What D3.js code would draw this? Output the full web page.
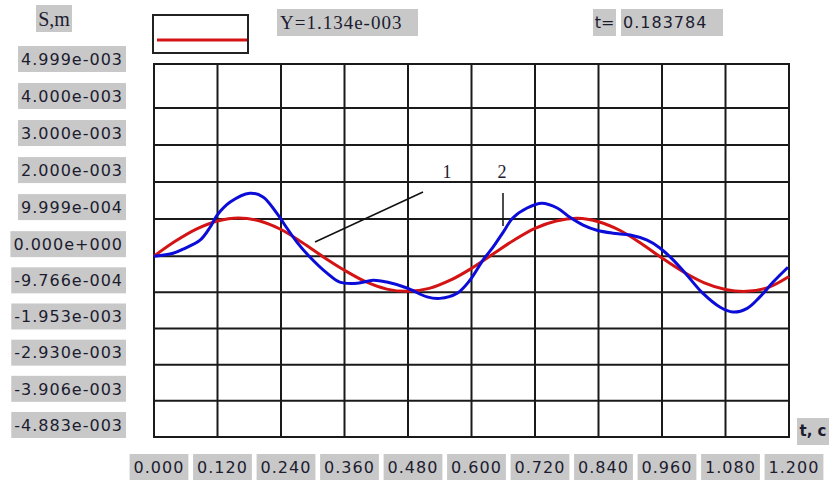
<!DOCTYPE html>
<html>
<head>
    <title>S(t) displacement chart</title>
    <style type="text/css">
        body { margin: 0; background: #ffffff; }
        .box { fill: #c8c8c8; }
        .lbl { font-family: "DejaVu Sans", sans-serif; font-size: 16px; letter-spacing: 1px; fill: #1c1c30; }
        .serif { font-family: "Liberation Serif", "Times New Roman", serif; fill: #1c1c30; }
        .grid { stroke: #1a1a1a; stroke-width: 2; fill: none; }
    </style>
</head>
<body>
    <div id="chart"></div>
    <script src="https://cdnjs.cloudflare.com/ajax/libs/d3/7.8.5/d3.min.js"></script>
    <script>
      // time axis ticks and their labels
      var xTicks = [0, 0.12, 0.24, 0.36, 0.48, 0.6, 0.72, 0.84, 0.96, 1.08, 1.2];
      var xTickLabels = ["0.000", "0.120", "0.240", "0.360", "0.480", "0.600", "0.720", "0.840", "0.960", "1.080", "1.200"];

      // displacement axis ticks and their labels (as printed)
      var yTicks = [4.999e-3, 4.0e-3, 3.0e-3, 2.0e-3, 9.999e-4, 0, -9.766e-4, -1.953e-3, -2.930e-3, -3.906e-3, -4.883e-3];
      var yTickLabels = ["4.999e-003", "4.000e-003", "3.000e-003", "2.000e-003", "9.999e-004", "0.000e+000",
                         "-9.766e-004", "-1.953e-003", "-2.930e-003", "-3.906e-003", "-4.883e-003"];

      // curve 1 (red), value in 1e-3 m
      var redT = [0, 0.04, 0.08, 0.12, 0.16, 0.20, 0.24, 0.28, 0.32, 0.36, 0.40, 0.44, 0.48, 0.52, 0.56, 0.60,
                  0.64, 0.68, 0.72, 0.76, 0.80, 0.84, 0.88, 0.92, 0.96, 1.00, 1.04, 1.08, 1.12, 1.16, 1.20];
      var redS = [0, 0.40, 0.73, 0.95, 1.03, 0.95, 0.72, 0.37, -0.02, -0.38, -0.69, -0.89, -0.95, -0.87, -0.65, -0.33,
                  0.05, 0.43, 0.75, 0.95, 1.02, 0.93, 0.70, 0.35, -0.05, -0.42, -0.72, -0.90, -0.95, -0.85, -0.55];

      // curve 2 (blue), value in 1e-3 m
      var blueT = [0, 0.036, 0.055, 0.087, 0.106, 0.119, 0.144, 0.181, 0.206, 0.232, 0.251, 0.270, 0.295, 0.327,
                   0.351, 0.384, 0.414, 0.440, 0.478, 0.516, 0.540, 0.573, 0.597, 0.622, 0.641, 0.660, 0.678,
                   0.705, 0.733, 0.762, 0.786, 0.811, 0.837, 0.867, 0.900, 0.932, 0.956, 0.981, 1.007, 1.037,
                   1.070, 1.094, 1.121, 1.145, 1.170, 1.198];
      var blueS = [0, 0.08, 0.19, 0.43, 0.78, 1.10, 1.46, 1.70, 1.60, 1.16, 0.76, 0.38, -0.03, -0.46,
                   -0.70, -0.73, -0.65, -0.70, -0.86, -1.10, -1.14, -1.00, -0.65, -0.10, 0.25, 0.65, 1.03,
                   1.30, 1.43, 1.30, 1.05, 0.84, 0.70, 0.62, 0.57, 0.43, 0.22, -0.10, -0.51, -1.00,
                   -1.38, -1.51, -1.41, -1.10, -0.70, -0.30];

      var width = 839,
          height = 483,
          plotLeft = 154,
          plotRight = 789,
          plotTop = 64,
          plotBottom = 437;

      var svg = d3.select("#chart").append("svg")
          .attr("width", width)
          .attr("height", height);

      var x = d3.scaleLinear().domain([0, 1.2]).range([plotLeft, plotRight]);
      var y = d3.scaleLinear().domain([-4.883e-3, 4.999e-3]).range([plotBottom, 71]);

      //  Grid: vertical lines on the time ticks, horizontal on the value ticks
      var grid = svg.append("g");
      grid.selectAll(".vl").data(xTicks).enter().append("line")
          .attr("class", "grid")
          .attr("x1", d => x(d)).attr("x2", d => x(d))
          .attr("y1", plotTop).attr("y2", plotBottom);
      grid.selectAll(".hl").data(yTicks.slice(1)).enter().append("line")
          .attr("class", "grid")
          .attr("x1", plotLeft).attr("x2", plotRight)
          .attr("y1", d => y(d)).attr("y2", d => y(d));
      grid.append("rect")
          .attr("class", "grid")
          .attr("x", plotLeft).attr("y", plotTop)
          .attr("width", plotRight - plotLeft).attr("height", plotBottom - plotTop);

      //  Curves
      var line = d3.line().curve(d3.curveCatmullRom.alpha(0.5));
      svg.append("path")
          .attr("d", line(redT.map((t, i) => [x(t), y(redS[i] * 1e-3)])))
          .attr("fill", "none").attr("stroke", "#d41414").attr("stroke-width", 3);
      svg.append("path")
          .attr("d", line(blueT.map((t, i) => [x(t), y(blueS[i] * 1e-3)])))
          .attr("fill", "none").attr("stroke", "#0c0cd8").attr("stroke-width", 3);

      //  Gray label box helper: draws text, then a box behind it
      function boxedText(g, px, py, txt, anchor, cls, pad) {
        var t = g.append("text")
            .attr("class", cls)
            .attr("x", px).attr("y", py)
            .attr("dy", "0.36em")
            .attr("text-anchor", anchor)
            .text(txt);
        var b = t.node().getBBox();
        g.insert("rect", "text")
            .attr("class", "box")
            .attr("x", b.x - pad).attr("y", py - 13)
            .attr("width", b.width + pad * 2).attr("height", 26);
        return t;
      }

      //  Y tick labels
      yTicks.forEach(function (v, i) {
        var g = svg.append("g");
        boxedText(g, 123, y(v) - 12, yTickLabels[i], "end", "lbl", 3);
      });

      //  X tick labels
      xTicks.forEach(function (v, i) {
        var g = svg.append("g");
        boxedText(g, x(v) + 5, 467, xTickLabels[i], "middle", "lbl", 4);
      });

      //  Axis titles and the read-outs on top
      var gs = svg.append("g");
      gs.append("rect").attr("class", "box").attr("x", 36).attr("y", 5).attr("width", 36).attr("height", 27);
      gs.append("text").attr("class", "serif").attr("x", 54).attr("y", 19).attr("dy", "0.35em")
          .attr("text-anchor", "middle").style("font-size", "20px").text("S,m");

      var gt = svg.append("g");
      gt.append("rect").attr("class", "box").attr("x", 797).attr("y", 418).attr("width", 32).attr("height", 27);
      gt.append("text").attr("class", "lbl").attr("x", 813).attr("y", 431).attr("dy", "0.36em")
          .attr("text-anchor", "middle").style("font-size", "15px").style("letter-spacing", "0px")
          .style("font-weight", "bold").text("t, c");

      //  Legend
      svg.append("rect").attr("x", 153).attr("y", 15).attr("width", 95).attr("height", 38)
          .attr("fill", "#ffffff").attr("stroke", "#222").attr("stroke-width", 2);
      svg.append("line").attr("x1", 157).attr("x2", 247).attr("y1", 40).attr("y2", 40)
          .attr("stroke", "#d41414").attr("stroke-width", 3);

      var gy = svg.append("g");
      gy.append("rect").attr("class", "box").attr("x", 277).attr("y", 9).attr("width", 141).attr("height", 27);
      gy.append("text").attr("class", "serif").attr("x", 280).attr("y", 22).attr("dy", "0.35em")
          .style("font-size", "19px").style("letter-spacing", "1px").text("Y=1.134e-003");

      var gtv = svg.append("g");
      gtv.append("rect").attr("class", "box").attr("x", 593).attr("y", 9).attr("width", 23).attr("height", 27);
      gtv.append("text").attr("class", "lbl").attr("x", 604.5).attr("y", 22).attr("dy", "0.36em")
          .attr("text-anchor", "middle").style("letter-spacing", "0px").text("t=");
      gtv.append("rect").attr("class", "box").attr("x", 621).attr("y", 9).attr("width", 102).attr("height", 27);
      gtv.append("text").attr("class", "lbl").attr("x", 623).attr("y", 22).attr("dy", "0.36em")
          .text("0.183784");

      //  Curve markers 1 and 2
      svg.append("line").attr("x1", 315).attr("y1", 242).attr("x2", 423).attr("y2", 192)
          .attr("stroke", "#111").attr("stroke-width", 1.5);
      svg.append("text").attr("class", "serif").attr("x", 447).attr("y", 172).attr("dy", "0.35em")
          .attr("text-anchor", "middle").style("font-size", "18px").text("1");
      svg.append("line").attr("x1", 503).attr("y1", 193).attr("x2", 503).attr("y2", 226)
          .attr("stroke", "#111").attr("stroke-width", 1.5);
      svg.append("text").attr("class", "serif").attr("x", 502).attr("y", 172).attr("dy", "0.35em")
          .attr("text-anchor", "middle").style("font-size", "18px").text("2");
    </script>
</body>
</html>
